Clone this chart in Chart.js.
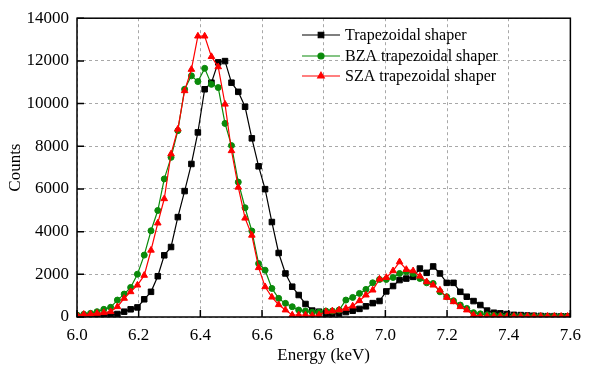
<!DOCTYPE html>
<html>
<head>
<meta charset="utf-8">
<script src="https://cdn.jsdelivr.net/npm/chart.js@4"></script>
<style>
  body { margin: 0; background: #fff; }
  #wrap { width: 589px; height: 368px; }
</style>
</head>
<body>
<div id="wrap"><canvas id="spectrum" width="589" height="368"></canvas></div>
<script>
// energy bins (keV)
const energy = [
  6.000, 6.022, 6.044, 6.065, 6.087, 6.109, 6.131, 6.153, 6.174, 6.196,
  6.218, 6.240, 6.262, 6.283, 6.305, 6.327, 6.349, 6.371, 6.392, 6.414,
  6.436, 6.458, 6.480, 6.501, 6.523, 6.545, 6.567, 6.589, 6.610, 6.632,
  6.654, 6.676, 6.698, 6.719, 6.741, 6.763, 6.785, 6.807, 6.828, 6.850,
  6.872, 6.894, 6.916, 6.937, 6.959, 6.981, 7.003, 7.025, 7.046, 7.068,
  7.090, 7.112, 7.134, 7.155, 7.177, 7.199, 7.221, 7.243, 7.264, 7.286,
  7.308, 7.330, 7.352, 7.373, 7.395, 7.417, 7.439, 7.461, 7.482, 7.504,
  7.526, 7.548, 7.570, 7.591
];

const trapezoidal = [
  20, 30, 47, 55, 62, 110, 140, 250, 360, 450,
  830, 1180, 1910, 2890, 3280, 4680, 5900, 7170, 8650, 10670,
  10980, 11930, 11990, 10980, 10550, 9850, 8370, 7060, 5990, 4450,
  3000, 2040, 1420, 1030, 610, 300, 250, 150, 150, 160,
  230, 296, 380, 500, 650, 750, 1200, 1450, 1730, 1800,
  1880, 2270, 2070, 2370, 2040, 1600, 1600, 1180, 950, 746,
  560, 300, 200, 170, 140, 100, 90, 70, 60, 50,
  40, 40, 30, 30
];

const bza = [
  93, 124, 171, 249, 358, 453, 793, 1073, 1385, 2007,
  2900, 4040, 4990, 6470, 7480, 8730, 10670, 11300, 11030, 11650,
  10900, 10750, 9070, 8030, 6320, 5120, 4030, 2505, 2193, 1339,
  873, 639, 481, 327, 280, 219, 219, 280, 280, 327,
  793, 917, 1105, 1293, 1602, 1758, 1758, 1851, 2039, 2116,
  2039, 1804, 1602, 1571, 1182, 949, 762, 560, 404, 202,
  150, 100, 80, 60, 50, 40, 40, 30, 30, 30,
  30, 30, 30, 30
];

const sza = [
  93, 124, 140, 171, 202, 249, 482, 873, 1182, 1493,
  1950, 3127, 4400, 5540, 7640, 8800, 10600, 11600, 13160, 13160,
  12200, 11720, 9970, 7790, 6080, 4630, 3830, 2310, 1416, 930,
  576, 327, 93, 93, 93, 70, 93, 250, 280, 327,
  404, 513, 762, 1027, 1260, 1773, 1851, 2163, 2582, 2225,
  2163, 1913, 1649, 1493, 1260, 919, 714, 482, 327, 93,
  40, 30, 30, 30, 30, 30, 30, 30, 30, 30,
  30, 30, 30, 30
];

const seriesNames = ["Trapezoidal shaper", "BZA trapezoidal shaper", "SZA trapezoidal shaper"];
const xTicks = [6.0, 6.2, 6.4, 6.6, 6.8, 7.0, 7.2, 7.4, 7.6];
const yTicks = [0, 2000, 4000, 6000, 8000, 10000, 12000, 14000];

const serif = "'Liberation Serif', 'Times New Roman', serif";

function toPoints(values) {
  return values.map((v, i) => ({ x: energy[i], y: v }));
}

// frame box + inward ticks
const framePlugin = {
  id: "frame",
  beforeDraw(chart) {
    const ctx = chart.ctx;
    ctx.save();
    ctx.fillStyle = "#fff";
    ctx.fillRect(0, 0, chart.width, chart.height);
    ctx.restore();
  },
  afterDraw(chart) {
    const { ctx, chartArea: a, scales } = chart;
    ctx.save();
    ctx.strokeStyle = "#000";
    ctx.lineWidth = 1.5;
    ctx.strokeRect(a.left, a.top, a.right - a.left, a.bottom - a.top);
    ctx.beginPath();
    xTicks.forEach(t => {
      const px = scales.x.getPixelForValue(t);
      ctx.moveTo(px, a.bottom);
      ctx.lineTo(px, a.bottom - 7);
    });
    yTicks.forEach(t => {
      const py = scales.y.getPixelForValue(t);
      ctx.moveTo(a.left, py);
      ctx.lineTo(a.left + 7, py);
    });
    ctx.stroke();
    ctx.restore();
  }
};

// legend drawn as line + marker, like the original
const legendPlugin = {
  id: "lineLegend",
  afterDatasetsDraw(chart) {
    const ctx = chart.ctx;
    const rows = [35, 56, 76];
    ctx.save();
    chart.data.datasets.forEach((ds, i) => {
      const y = rows[i];
      ctx.strokeStyle = ds.borderColor;
      ctx.lineWidth = 1.2;
      ctx.beginPath();
      ctx.moveTo(302, y);
      ctx.lineTo(340, y);
      ctx.stroke();
      ctx.fillStyle = ds.borderColor;
      Chart.helpers.drawPoint(ctx, {
        pointStyle: ds.pointStyle,
        radius: ds.pointRadius,
        borderWidth: 1
      }, 321, y);
      ctx.fillStyle = "#000";
      ctx.font = "16px " + serif;
      ctx.textBaseline = "middle";
      ctx.fillText(seriesNames[i], 345, y + 1);
    });
    ctx.restore();
  }
};

function makeDataset(label, values, color, style, radius, order) {
  return {
    label: label,
    data: toPoints(values),
    borderColor: color,
    backgroundColor: color,
    pointBackgroundColor: color,
    pointBorderColor: color,
    borderWidth: 1.2,
    pointStyle: style,
    pointRadius: radius,
    pointBorderWidth: 1,
    tension: 0,
    order: order
  };
}

const ctx = document.getElementById("spectrum");
new Chart(ctx, {
  type: "line",
  data: {
    datasets: [
      makeDataset(seriesNames[0], trapezoidal, "#000000", "rect", 3.9, 3),
      makeDataset(seriesNames[1], bza, "#0a8a0a", "circle", 3, 2),
      makeDataset(seriesNames[2], sza, "#ff0000", "triangle", 3.8, 1)
    ]
  },
  options: {
    responsive: false,
    animation: false,
    layout: { padding: { top: 17, right: 12, left: 0, bottom: 0 } },
    plugins: {
      legend: { display: false },
      tooltip: { enabled: false }
    },
    scales: {
      x: {
        type: "linear",
        min: 6.0,
        max: 7.6,
        afterFit(scale) { scale.height = 51; },
        afterBuildTicks(scale) { scale.ticks = xTicks.map(v => ({ value: v })); },
        ticks: {
          color: "#000",
          padding: 8,
          font: { family: serif, size: 17 },
          callback: v => v.toFixed(1)
        },
        grid: { color: "#a8a8a8", lineWidth: 1, drawTicks: false },
        border: { display: false, dash: [3, 3] },
        title: {
          display: true,
          text: "Energy (keV)",
          color: "#000",
          font: { family: serif, size: 17 },
          padding: { top: 4, bottom: 2 }
        }
      },
      y: {
        min: 0,
        max: 14000,
        afterFit(scale) { scale.width = 77; },
        afterBuildTicks(scale) { scale.ticks = yTicks.map(v => ({ value: v })); },
        ticks: {
          color: "#000",
          padding: 8,
          font: { family: serif, size: 17 },
          callback: v => String(v)
        },
        grid: { color: "#a8a8a8", lineWidth: 1, drawTicks: false },
        border: { display: false, dash: [3, 3] },
        title: {
          display: true,
          text: "Counts",
          color: "#000",
          font: { family: serif, size: 17 },
          padding: { top: 5, bottom: 4 }
        }
      }
    }
  },
  plugins: [framePlugin, legendPlugin]
});
</script>
</body>
</html>
